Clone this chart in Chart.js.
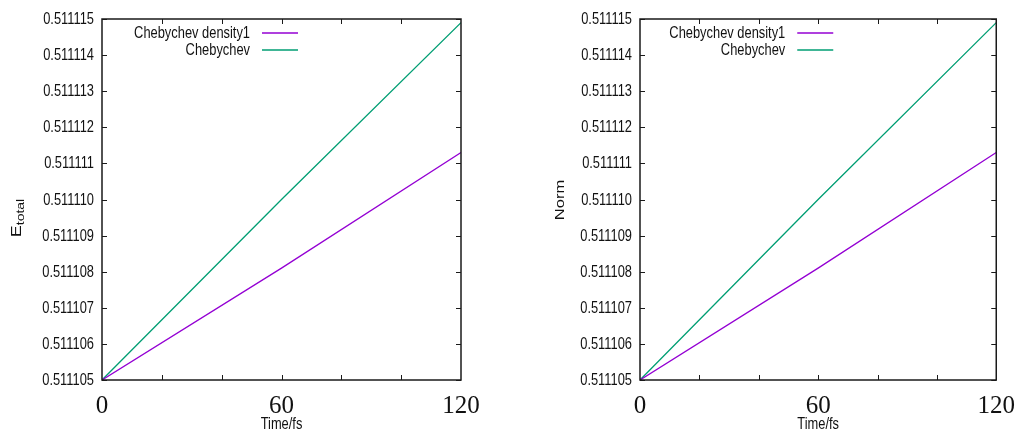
<!DOCTYPE html>
<html>
<head>
<meta charset="utf-8">
<script src="https://cdn.jsdelivr.net/npm/chart.js@4.4.0/dist/chart.umd.min.js"></script>
<style>
  body { margin: 0; background: #fff; }
  #wrap { position: relative; width: 1018px; height: 431px; }
  .box { position: absolute; top: 0; width: 509px; height: 431px; }
</style>
</head>
<body>
<div id="wrap">
  <div class="box" style="left:0"><canvas id="chartLeft"></canvas></div>
  <div class="box" style="left:509px"><canvas id="chartRight"></canvas></div>
</div>
<script>
// data
const timeFs = [0, 60, 120];
const densityLeft = [0.511105, 0.5111081, 0.5111113];
const chebLeft = [0.511105, 0.51111, 0.5111149];
const densityRight = [0.511105, 0.5111081, 0.5111113];
const chebRight = [0.511105, 0.51111, 0.5111149];

const xTicks = [0, 20, 40, 60, 80, 100, 120];
const xTickLabels = ["0", "", "", "60", "", "", "120"];
const yTickLabels = ["0.511105", "0.511106", "0.511107", "0.511108", "0.511109",
  "0.511110", "0.511111", "0.511112", "0.511113", "0.511114", "0.511115"];
const seriesNames = ["Chebychev density1", "Chebychev"];

const PURPLE = "#9400d3";
const GREEN = "#009e73";
const SANS = "'Liberation Sans', Arial, sans-serif";
const SQUEEZE = 0.78; // the sans text in the picture is narrow

function points(xs, ys) {
  return xs.map((x, i) => ({ x: x, y: ys[i] }));
}

// narrow text, drawn squeezed along the image x direction
function narrowText(ctx, text, x, y, align) {
  ctx.save();
  ctx.translate(x, y);
  ctx.scale(SQUEEZE, 1);
  ctx.textAlign = align;
  ctx.fillText(text, 0, 0);
  ctx.restore();
}

// frame, inward ticks, labels and legend, gnuplot style
const framePlugin = {
  id: "frame",
  afterDatasetsDraw(chart) {
    const ctx = chart.ctx;
    const a = chart.chartArea;
    const xs = chart.scales.x, ys = chart.scales.y;
    ctx.save();
    ctx.strokeStyle = "#1a1a1a";
    ctx.lineWidth = 1;
    ctx.beginPath();
    xTicks.forEach((v) => {
      if (v === 0 || v === 120) return;
      const px = Math.round(xs.getPixelForValue(v)) + 0.5;
      ctx.moveTo(px, a.bottom); ctx.lineTo(px, a.bottom - 5);
      ctx.moveTo(px, a.top); ctx.lineTo(px, a.top + 5);
    });
    yTickLabels.forEach((s) => {
      const py = Math.round(ys.getPixelForValue(parseFloat(s))) + 0.5;
      ctx.moveTo(a.left, py); ctx.lineTo(a.left + 5, py);
      ctx.moveTo(a.right, py); ctx.lineTo(a.right - 5, py);
    });
    ctx.stroke();
    ctx.lineWidth = 1.5;
    ctx.strokeRect(a.left, a.top, a.right - a.left, a.bottom - a.top);

    ctx.fillStyle = "#111";
    ctx.textBaseline = "middle";
    ctx.font = "16.5px " + SANS;

    // y tick labels
    yTickLabels.forEach((s) => {
      narrowText(ctx, s, a.left - 8, ys.getPixelForValue(parseFloat(s)) + 0.5, "right");
    });

    // legend
    const colors = [PURPLE, GREEN];
    seriesNames.forEach((name, i) => {
      const y = a.top + 14 + i * 17;
      ctx.fillStyle = "#111";
      narrowText(ctx, name, a.right - 211, y, "right");
      ctx.strokeStyle = colors[i];
      ctx.lineWidth = 1.4;
      ctx.beginPath();
      ctx.moveTo(a.right - 199, y); ctx.lineTo(a.right - 163, y);
      ctx.stroke();
    });

    // axis titles
    ctx.fillStyle = "#111";
    narrowText(ctx, "Time/fs", (a.left + a.right) / 2, 424, "center");
    const t = chart.options.plugins.frame;
    ctx.translate(t.titleX, t.titleY);
    ctx.scale(SQUEEZE, 1);
    ctx.rotate(-Math.PI / 2);
    if (t.sub) {
      ctx.font = "18px " + SANS;
      const w1 = ctx.measureText(t.main).width;
      ctx.font = "14px " + SANS;
      const w2 = ctx.measureText(t.sub).width;
      const start = -(w1 + w2) / 2;
      ctx.textAlign = "left";
      ctx.font = "18px " + SANS;
      ctx.fillText(t.main, start, 0);
      ctx.font = "14px " + SANS;
      ctx.fillText(t.sub, start + w1, 5);
    } else {
      ctx.textAlign = "center";
      ctx.font = "16.5px " + SANS;
      ctx.fillText(t.main, 0, 0);
    }
    ctx.restore();
  }
};

function makeConfig(dens, cheb, yAxisWidth, padRight, title) {
  return {
    type: "line",
    data: {
      datasets: [
        { label: seriesNames[0], data: points(timeFs, dens), borderColor: PURPLE,
          borderWidth: 1.3, pointRadius: 0, tension: 0, fill: false },
        { label: seriesNames[1], data: points(timeFs, cheb), borderColor: GREEN,
          borderWidth: 1.3, pointRadius: 0, tension: 0, fill: false },
      ],
    },
    plugins: [framePlugin],
    options: {
      animation: false,
      responsive: false,
      events: [],
      layout: { padding: { top: 19, right: padRight, left: 0, bottom: 0 } },
      plugins: {
        legend: { display: false },
        tooltip: { enabled: false },
        frame: title,
      },
      scales: {
        x: {
          type: "linear",
          min: 0,
          max: 120,
          grid: { display: false },
          border: { display: false },
          afterBuildTicks: (s) => { s.ticks = xTicks.map((v) => ({ value: v })); },
          afterFit: (s) => { s.height = 51; },
          ticks: {
            autoSkip: false,
            maxRotation: 0,
            padding: 3,
            color: "#111",
            font: { family: "'Liberation Serif', 'DejaVu Serif', serif", size: 25 },
            callback: (v, i) => xTickLabels[i],
          },
        },
        y: {
          type: "linear",
          min: 0.511105,
          max: 0.511115,
          grid: { display: false },
          border: { display: false },
          afterBuildTicks: (s) => { s.ticks = yTickLabels.map((t) => ({ value: parseFloat(t) })); },
          afterFit: (s) => { s.width = yAxisWidth; },
          ticks: { display: false },
        },
      },
    },
  };
}

function setup(id) {
  const c = document.getElementById(id);
  c.width = 509; c.height = 431;
  return c;
}

new Chart(setup("chartLeft"),
  makeConfig(densityLeft, chebLeft, 102, 48, { main: "E", sub: "total", titleX: 17, titleY: 218 }));
new Chart(setup("chartRight"),
  makeConfig(densityRight, chebRight, 131, 20, { main: "Norm", sub: "", titleX: 51, titleY: 200 }));
</script>
</body>
</html>
